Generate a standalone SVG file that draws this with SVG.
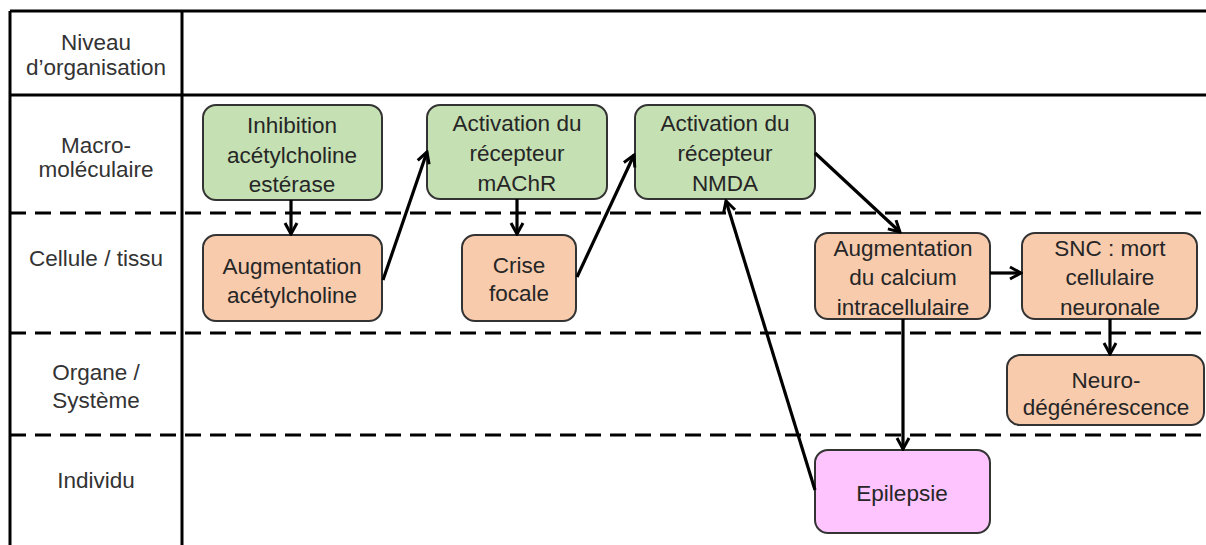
<svg xmlns="http://www.w3.org/2000/svg" width="1206" height="545" viewBox="0 0 1206 545">
<defs>
<marker id="ah" viewBox="0 0 16 16" refX="14" refY="8" markerWidth="16" markerHeight="16" markerUnits="userSpaceOnUse" orient="auto">
<path d="M3,2 L14,8 L3,14" fill="none" stroke="#000" stroke-width="3" stroke-linejoin="miter"/>
</marker>
</defs>
<style>
text{font-family:"Liberation Sans",Arial,sans-serif;font-size:22.5px;fill:#262626;text-anchor:middle}
.lbl{fill:#333}
.grid{stroke:#000;stroke-width:3;fill:none}
.dash{stroke:#000;stroke-width:3;stroke-dasharray:16 9;fill:none}
.g rect{fill:#c5e0b3;stroke:#333;stroke-width:2}
.o rect{fill:#f8cbad;stroke:#333;stroke-width:2}
.p rect{fill:#fdc4fd;stroke:#333;stroke-width:2}
.c line{stroke:#000;stroke-width:3.2;marker-end:url(#ah)}
</style>
<rect width="1206" height="545" fill="#fff"/>
<g id="grid">
<line class="grid" x1="10" y1="11" x2="1206" y2="11"/>
<line class="grid" x1="10" y1="11" x2="10" y2="545"/>
<line class="grid" x1="182" y1="11" x2="182" y2="545"/>
<line class="grid" x1="10" y1="95" x2="1206" y2="95"/>
<line class="dash" x1="10" y1="213" x2="1206" y2="213"/>
<line class="dash" x1="10" y1="333" x2="1206" y2="333"/>
<line class="dash" x1="10" y1="435" x2="1206" y2="435"/>
</g>
<g id="labels">
<text class="lbl" x="96" y="50">Niveau</text>
<text class="lbl" x="96" y="75">d’organisation</text>
<text class="lbl" x="96" y="153">Macro-</text>
<text class="lbl" x="96" y="177">moléculaire</text>
<text class="lbl" x="96" y="266">Cellule / tissu</text>
<text class="lbl" x="96" y="380">Organe /</text>
<text class="lbl" x="96" y="408">Système</text>
<text class="lbl" x="96" y="488">Individu</text>
</g>
<g id="n1" class="g">
<rect x="203" y="105" width="179" height="95" rx="13"/>
<text x="292" y="133">Inhibition</text>
<text x="292" y="163">acétylcholine</text>
<text x="292" y="192">estérase</text>
</g>
<g id="n2" class="g">
<rect x="427" y="105" width="180" height="94" rx="13"/>
<text x="517" y="131">Activation du</text>
<text x="517" y="161">récepteur</text>
<text x="517" y="191">mAChR</text>
</g>
<g id="n3" class="g">
<rect x="635" y="105" width="180" height="94" rx="13"/>
<text x="725" y="131">Activation du</text>
<text x="725" y="161">récepteur</text>
<text x="725" y="191">NMDA</text>
</g>
<g id="n4" class="o">
<rect x="203" y="235" width="179" height="86" rx="13"/>
<text x="292" y="274">Augmentation</text>
<text x="292" y="303">acétylcholine</text>
</g>
<g id="n5" class="o">
<rect x="462" y="235" width="114" height="86" rx="13"/>
<text x="519" y="273">Crise</text>
<text x="519" y="301">focale</text>
</g>
<g id="n6" class="o">
<rect x="815" y="233" width="175" height="86" rx="13"/>
<text x="903" y="256">Augmentation</text>
<text x="903" y="285">du calcium</text>
<text x="903" y="315">intracellulaire</text>
</g>
<g id="n7" class="o">
<rect x="1022" y="233" width="175" height="86" rx="13"/>
<text x="1110" y="256">SNC : mort</text>
<text x="1110" y="285">cellulaire</text>
<text x="1110" y="315">neuronale</text>
</g>
<g id="n8" class="o">
<rect x="1007" y="355" width="197" height="70" rx="13"/>
<text x="1106" y="388">Neuro-</text>
<text x="1106" y="415">dégénérescence</text>
</g>
<g id="n9" class="p">
<rect x="815" y="450" width="175" height="83" rx="13"/>
<text x="902" y="501">Epilepsie</text>
</g>
<g id="connectors" class="c">
<line x1="291" y1="200" x2="291" y2="234"/>
<line x1="383" y1="280" x2="427" y2="152"/>
<line x1="517" y1="199" x2="517" y2="234"/>
<line x1="577" y1="277" x2="634" y2="155"/>
<line x1="815" y1="153" x2="900" y2="232"/>
<line x1="815" y1="490" x2="726" y2="201"/>
<line x1="903" y1="319" x2="903" y2="449"/>
<line x1="990" y1="273" x2="1021" y2="273"/>
<line x1="1110" y1="319" x2="1110" y2="354"/>
</g>
</svg>
